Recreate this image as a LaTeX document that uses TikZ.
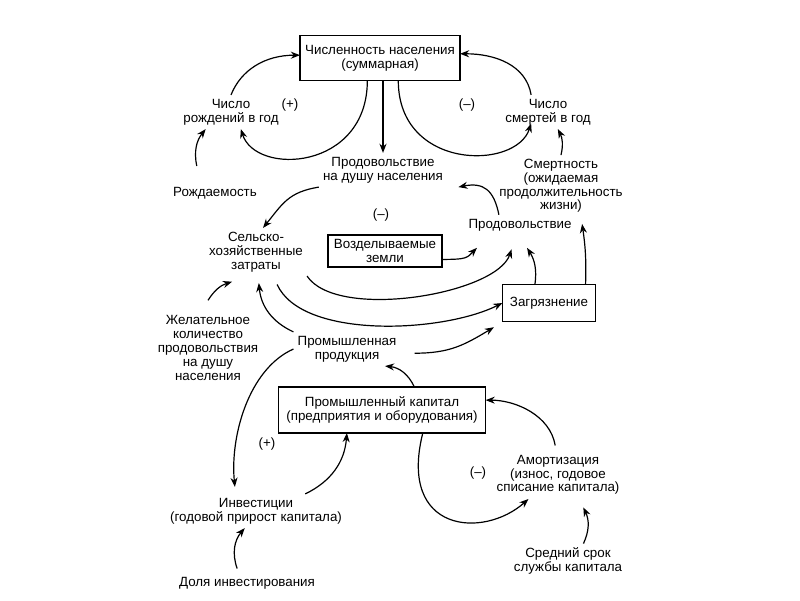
\documentclass[tikz,border=0pt]{standalone}
\usepackage{fontspec}
\setmainfont{Liberation Sans}
\usetikzlibrary{arrows.meta}

\begin{document}
\begin{tikzpicture}[
            x=0.025cm, y=0.025cm,
            % Beschriftungen ohne Rahmen
            txt/.style={align=center, font=\fontsize{9.5}{9.8}\selectfont, inner sep=1pt, outer sep=2pt},
            % Bestandsgrößen mit Rahmen
            stock/.style={txt, draw, line width=1pt, inner sep=3pt, outer sep=0pt},
            sign/.style={font=\fontsize{9.5}{9.8}\selectfont},
            link/.style={-{Stealth[length=6.5pt,width=5pt]}, line width=0.85pt}
        ]
        \useasboundingbox (0,0) rectangle (800,600);
        % obere Schleife: Bevölkerung
        \node[stock, minimum width=4cm, minimum height=1.125cm] (pop) at (380,542) {Численность населения\\(суммарная)};
        \node[txt] (births) at (231,488) {Число\\рождений в год};
        \node[txt] (deaths) at (548,488) {Число\\смертей в год};
        \node[sign] (plus1) at (290,495) {(+)};
        \node[sign] (minus1) at (467,495) {(--)};
        \node[txt] (foodpc) at (383,430) {Продовольствие\\на душу населения};
        \node[txt] (birthrate) at (215,407) {Рождаемость};
        \node[txt] (mortality) at (561,414) {Смертность\\(ожидаемая\\продолжительность\\жизни)};
        % mittlere Schleife: Nahrung
        \node[sign] (minus2) at (381,385) {(--)};
        \node[txt] (food) at (520,375) {Продовольствие};
        \node[txt] (agri) at (256,348) {Сельско-\\хозяйственные\\затраты};
        \node[stock, minimum width=2.85cm, minimum height=0.8cm] (land) at (385,349) {Возделываемые\\земли};
        \node[stock, minimum width=2.33cm, minimum height=0.93cm] (pollution) at (549,297) {Загрязнение};
        \node[txt] (desired) at (208,252) {Желательное\\количество\\продовольствия\\на душу\\населения};
        \node[txt] (indout) at (347,251) {Промышленная\\продукция};
        % untere Schleife: Kapital
        \node[stock, minimum width=5.18cm, minimum height=1.15cm] (indcap) at (382,190) {Промышленный капитал\\(предприятия и оборудования)};
        \node[sign] (plus3) at (267,156) {(+)};
        \node[sign] (minus3) at (478,127) {(--)};
        \node[txt] (amort) at (558,125) {Амортизация\\(износ, годовое\\списание капитала)};
        \node[txt] (invest) at (256,89) {Инвестиции\\(годовой прирост капитала)};
        \node[txt] (share) at (247,17) {Доля инвестирования};
        \node[txt] (lifetime) at (568,39) {Средний срок\\службы капитала};

        \draw[link] (births.north) .. controls +(10,25) and +(-35,0) .. ([yshift=2pt]pop.west);
        \draw[link] ([xshift=-9pt]pop.south) .. controls +(0,-90) and +(15,-47) .. ([xshift=7pt]births.south);
        \draw[link] (foodpc.north |- pop.south) -- (foodpc.north);
        \draw[link] ([xshift=13pt]pop.south) .. controls +(0,-90) and +(-15,-47) .. ([xshift=-12pt,yshift=4pt]deaths.south);
        \draw[link] ([xshift=-12pt]deaths.north) .. controls +(-5,30) and +(35,0) .. ([yshift=3pt]pop.east);
        \draw[link] (mortality.north) to[bend right=20] ([xshift=7pt]deaths.south);
        \draw[link] ([shift={(-13pt,12pt)}]birthrate.north) to[bend left=25] ([xshift=-18pt]births.south);

        \draw[link] (foodpc.south west) .. controls +(-30,-5) and +(20,25) .. ([xshift=5pt]agri.north);
        \draw[link] ([xshift=-15pt]food.north) .. controls +(-5,25) and +(25,5) .. ([xshift=8pt]foodpc.south east);
        \draw[link] ([yshift=-6pt]land.east) .. controls +(25,0) and +(-10,-10) .. ([shift={(9pt,-9pt)}]food.south west);
        \draw[link] (agri.south east) .. controls +(30,-45) and +(-15,-45) .. ([shift={(-6pt,-10pt)}]food.south);
        \draw[link] ([xshift=-10pt]pollution.north) to[bend right=20] ([shift={(5pt,-9pt)}]food.south);
        \draw[link] ([xshift=26pt]pollution.north) to[bend right=5] ([shift={(15pt,-5pt)}]mortality.south);
        \draw[link] ([shift={(15pt,-6pt)}]agri.south) .. controls +(25,-55) and +(-60,-30) .. (pollution.west);
        \draw[link] ([yshift=8pt]desired.north) to[bend left=20] ([shift={(-17pt,-4pt)}]agri.south);
        \draw[link] (indout.north west) to[bend left=30] ([shift={(2pt,-5pt)}]agri.south);
        \draw[link] ([shift={(10pt,-3pt)}]indout.east) .. controls +(35,0) and +(-30,-18) .. ([shift={(-6pt,-4pt)}]pollution.south west);

        \draw[link] ([xshift=23pt]indcap.north) to[bend right=30] ([xshift=27pt]indout.south);
        \draw[link] (indout.west) .. controls +(-45,-20) and +(-5,50) .. ([shift={(-15pt,5pt)}]invest.north);
        \draw[link] ([xshift=35pt]invest.north) to[bend right=30] ([xshift=-25pt]indcap.south);
        \draw[link] ([xshift=29pt]indcap.south) .. controls +(-25,-100) and +(-45,-40) .. ([xshift=-21pt]amort.south);
        \draw[link] ([shift={(-2pt,4pt)}]amort.north) .. controls +(-5,30) and +(30,0) .. ([yshift=7pt]indcap.east);
        \draw[link] ([shift={(-7pt,3pt)}]share.north) to[bend left=30] ([xshift=-8pt]invest.south);
        \draw[link] ([xshift=11pt]lifetime.north) to[bend right=25] ([shift={(18pt,-6pt)}]amort.south);
    \end{tikzpicture}
\end{document}
